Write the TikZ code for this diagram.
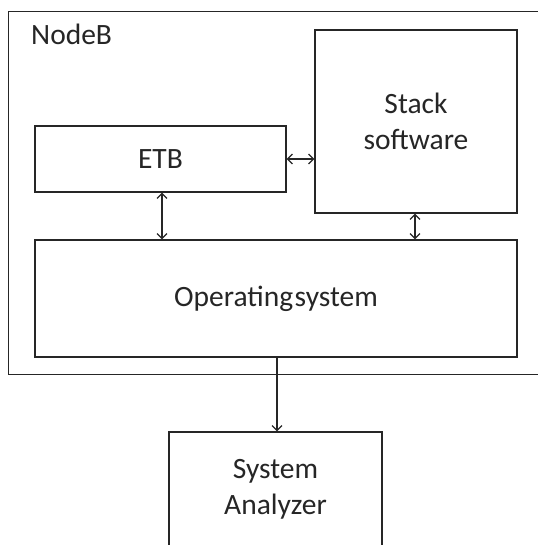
\documentclass[tikz,border=0pt]{standalone}
\usepackage{fontspec}
\setmainfont{Carlito}
\usetikzlibrary{arrows.meta}
\tikzset{
  txt/.style={text=black!85, font=\fontsize{29.5bp}{36bp}\selectfont},
  box/.style={draw=black!85, line width=1.2bp, inner sep=0pt, align=center, txt},
  link/.style={draw=black!85, line width=1.2bp,
               arrows={Straight Barb[length=5bp,width=10bp]-Straight Barb[length=5bp,width=10bp]}},
  flow/.style={draw=black!85, line width=1.2bp, -{Straight Barb[length=5bp,width=10bp]}},
  caption/.style={inner sep=0pt, txt}
}
\begin{document}
\begin{tikzpicture}[x=1bp, y=-1bp]
  \clip (0,0) rectangle (538,545);
  \fill[white] (0,0) rectangle (538,545);

  % enclosing NodeB frame (runs past the right edge)
  \node[box, anchor=north west, minimum width=570bp, minimum height=363bp] (nodeb) at (8,11) {};
  \node[caption, anchor=base west] (nodebtitle) at (31,45) {NodeB};

  % components inside NodeB
  \node[box, minimum width=251bp, minimum height=66bp] (etb) at (160.5,159) {ETB};
  \node[box, minimum width=202bp, minimum height=183bp] (stack) at (416,121.5) {Stack\\software};
  \node[box, minimum width=482bp, minimum height=117bp] (os) at (276,298.5) {Operating\kern0.05em system};

  % external analyzer (bottom edge runs off the page)
  \node[box, minimum width=213bp, minimum height=114bp] (sa) at (275.5,489) {System\\Analyzer};

  % connectors
  \draw[link] (etb.east) -- (etb.east -| stack.west);
  \draw[link] (etb.south -| 162,0) -- (os.north -| 162,0);
  \draw[link] (stack.south -| 415,0) -- (os.north -| 415,0);
  \draw[flow] (os.south -| 277,0) -- (sa.north -| 277,0);
\end{tikzpicture}
\end{document}
